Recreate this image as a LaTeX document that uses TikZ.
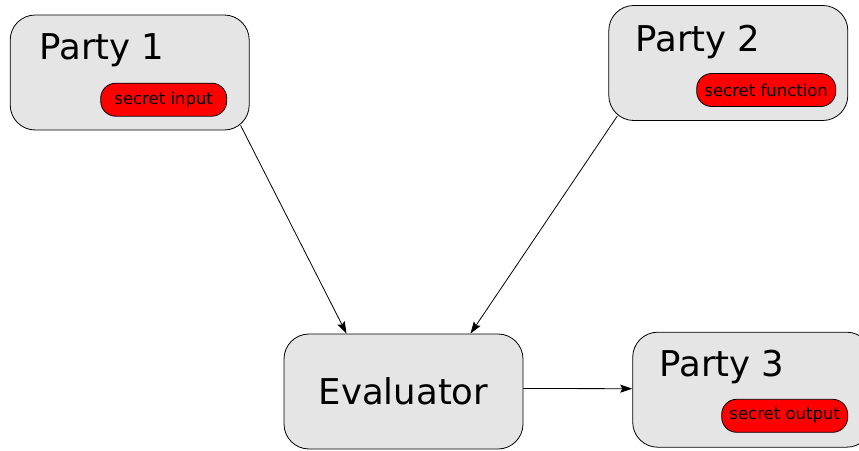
\documentclass[tikz,border=0pt]{standalone}
\usepackage{fontspec}
\setmainfont{DejaVu Sans}
\usetikzlibrary{arrows.meta,positioning}

\begin{document}
\begin{tikzpicture}[x=1pt,y=1pt,line width=0.8pt,>={Stealth[length=12pt,width=8pt,inset=2pt]}]
\tikzstyle{party}=[draw,fill=black!10,rounded corners=25pt,minimum width=239pt,minimum height=115pt,inner sep=0pt]
\tikzstyle{secret}=[draw,fill=red,rounded corners=15pt,minimum width=126pt,minimum height=33pt,inner sep=0pt,font=\fontsize{16.5}{19}\selectfont]
\tikzstyle{title}=[anchor=base west,inner sep=0pt,font=\fontsize{35.5}{42}\selectfont]
\useasboundingbox (0,0) rectangle (859,450);
% the boxes
\node [party] (p1) at (129.7,377.5) {};
\node [party] (p2) at (728.3,387) {};
\node [party,font=\fontsize{35.5}{42}\selectfont] (eval) at (403.5,58.5) {Evaluator};
\node [party] (p3) at (752.2,60.3) {};
% names
\node [title] (p1name) at (39,390) {Party 1};
\node [title] (p2name) at (635,398.3) {Party 2};
\node [title] (p3name) at (659,74) {Party 3};
% secrets
\node [secret] (in) at (163.7,350.3) {secret input};
\node [secret,minimum width=139pt] (fun) at (766.2,360) {secret function};
\node [secret] (out) at (784.7,34.2) {secret output};
% arrows
\draw [->] ([xshift=-9pt,yshift=5pt]p1.south east) -- ([xshift=-57pt]eval.north);
\draw [->] ([xshift=9pt,yshift=5pt]p2.south west) -- ([xshift=67pt]eval.north);
\draw [->] ([yshift=3pt]eval.east) -- ([yshift=1pt]p3.west);
\end{tikzpicture}
\end{document}
